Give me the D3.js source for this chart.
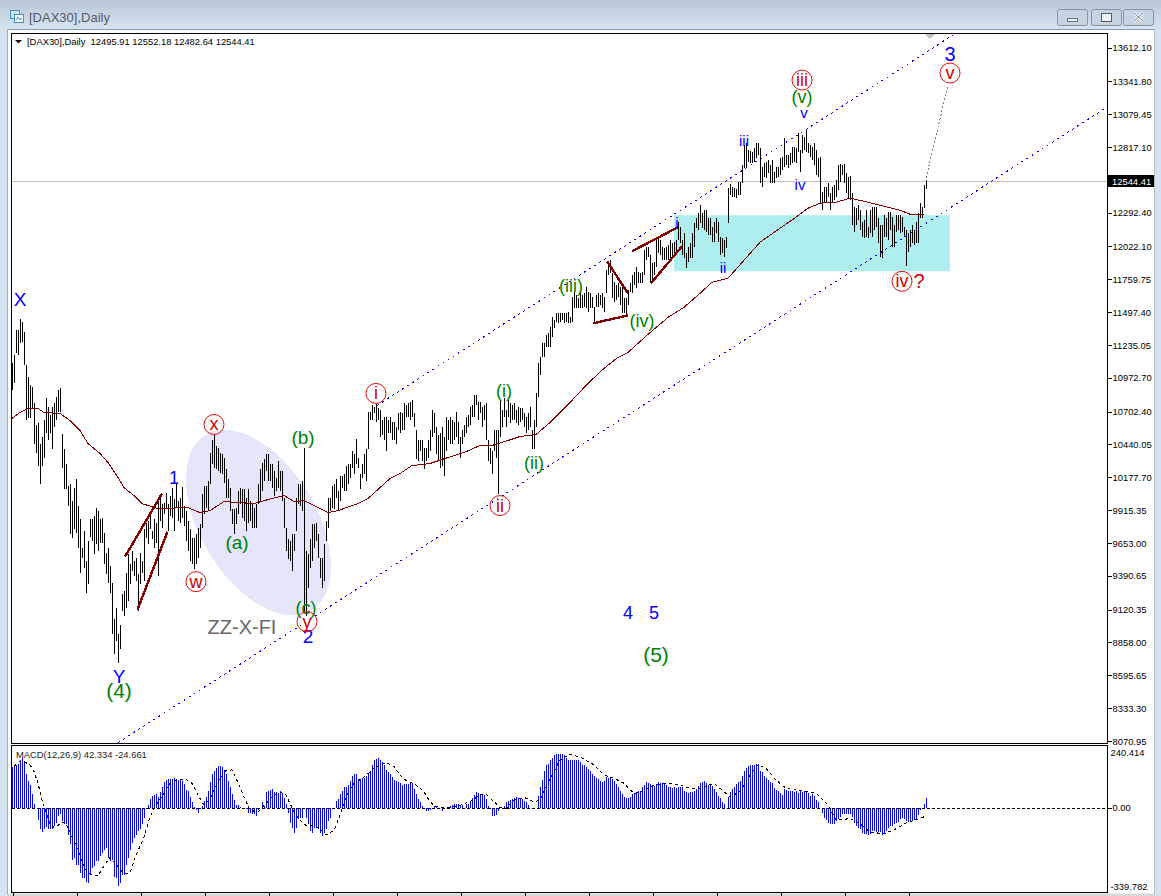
<!DOCTYPE html>
<html><head><meta charset="utf-8">
<script src="https://cdn.jsdelivr.net/npm/d3@7/dist/d3.min.js"></script>
<style>html,body{margin:0;padding:0;background:#fff;overflow:hidden}svg{display:block}text{font-family:"Liberation Sans",Arial,sans-serif}</style>
</head><body><svg id="c" width="1161" height="896"></svg>
<script>
const priceTicks=[13612.10,13341.80,13079.45,12817.10,12292.40,12022.10,11759.75,11497.40,11235.05,10972.70,10702.40,10440.05,10177.70,9915.35,9653.00,9390.65,9120.35,8858.00,8595.65,8333.30,8070.95];
const lastPrice=12544.41;
const headerText="[DAX30],Daily  12495.91 12552.18 12482.64 12544.41";
const macdText="MACD(12,26,9) 42.334 -24.661";
const highs=[
11088,11152,11352,11352,11440,11416,11336,11072,10976,10912,10896,10768,10592,10608,10448,10496,
10632,10808,10736,10672,10736,10768,10816,10872,10888,10520,10408,10288,10112,10128,9992,10096,
10168,9952,9848,9616,9752,9512,9672,9848,9848,9872,9936,9912,9848,9856,9736,9576,
9616,9472,9336,9048,9136,8928,9000,9248,9272,9416,9568,9488,9592,9512,9536,9408,
9576,9512,9768,9816,9832,9872,9752,9848,9816,10016,10032,9968,9976,10056,9968,10032,
10096,10008,10128,9992,10016,10104,9952,9912,9832,9768,9696,9696,9728,9776,9808,10048,
10112,10112,10152,10376,10472,10512,10432,10416,10376,10368,10336,10248,10168,10096,9928,9928,
9936,10072,10096,10088,10088,10016,10088,9992,9968,9936,9968,10128,10248,10296,10328,10368,
10368,10288,10288,10232,10176,10312,10232,10232,10016,9776,9688,9672,9728,9728,10016,10128,
10128,10152,10416,9592,9568,9688,9808,9808,9816,9728,9536,9536,9648,9832,10016,10016,
10112,10128,10168,10072,10192,10192,10208,10272,10288,10288,10392,10368,10480,10336,10208,10288,
10368,10408,10696,10696,10752,10736,10768,10728,10712,10632,10656,10656,10632,10656,10616,10616,
10576,10688,10696,10688,10768,10752,10768,10776,10792,10688,10552,10472,10472,10472,10416,10416,
10472,10552,10712,10688,10576,10512,10528,10576,10496,10656,10632,10656,10632,10616,10696,10616,
10496,10552,10592,10656,10672,10736,10752,10832,10832,10776,10776,10736,10752,10768,10472,10416,
10392,10552,10552,10552,10792,10712,10808,10712,10792,10768,10752,10768,10712,10736,10728,10728,
10688,10656,10688,10736,10552,10632,10848,11088,11136,11248,11248,11312,11328,11376,11456,11432,
11488,11488,11488,11488,11488,11488,11496,11456,11616,11656,11632,11608,11648,11632,11648,11696,
11656,11648,11616,11536,11632,11648,11632,11648,11616,11832,11888,11912,11808,11736,11712,11728,
11696,11696,11608,11608,11672,11728,11792,11816,11856,11816,11808,11816,11992,12016,12016,11952,
11888,11896,12096,12088,12072,12016,12008,12016,12032,12072,12048,12056,12072,12216,12176,12072,
12128,11968,12016,12048,12128,12208,12248,12288,12352,12288,12312,12312,12248,12248,12176,12216,
12248,12216,12096,12088,12072,12096,12488,12520,12496,12488,12480,12536,12536,12672,12832,12848,
12792,12784,12776,12808,12848,12848,12808,12656,12688,12696,12712,12672,12712,12616,12656,12656,
12728,12736,12888,12752,12752,12768,12816,12816,12808,12928,12792,12912,12896,12960,12848,12832,
12816,12848,12792,12728,12736,12456,12496,12496,12528,12448,12496,12512,12552,12672,12680,12672,
12680,12608,12576,12584,12448,12336,12328,12352,12312,12216,12232,12312,12176,12312,12336,12336,
12336,12248,12192,12192,12272,12248,12296,12296,12256,12192,12272,12272,12272,12256,12176,12152,
12128,12152,12192,12152,12216,12288,12368,12336,12512,12552];
const lows=[
10872,10928,11168,11152,11248,11256,11072,10632,10648,10648,10728,10448,10376,10272,10128,10272,
10336,10528,10472,10528,10408,10576,10632,10696,10696,10256,10088,10088,9952,9728,9696,9768,
9736,9616,9416,9536,9456,9256,9328,9704,9672,9568,9648,9592,9656,9656,9488,9408,
9336,9256,8928,8768,8872,8696,8808,9112,9072,9136,9192,9328,9432,9392,9352,9112,
9328,9416,9352,9696,9648,9768,9688,9616,9656,9392,9832,9776,9888,9936,9752,9872,
9856,9752,9936,9832,9816,9856,9792,9672,9592,9512,9488,9448,9488,9536,9616,9776,
9888,9936,9912,10128,10288,10256,10248,10232,10216,10208,10136,10016,10016,9912,9808,9728,
9808,9888,9968,9856,9832,9752,9816,9832,9776,9776,9776,9968,9992,10072,10152,10232,
10152,10152,10096,10032,10072,10096,10072,9992,9776,9592,9528,9512,9432,9592,9752,9968,
9952,9912,9096,9072,9296,9456,9512,9616,9672,9536,9376,9296,9352,9672,9776,9912,
9936,9928,10016,9912,9992,10096,10072,10072,10128,10176,10256,10208,10288,10256,10088,10176,
10208,10152,10408,10632,10632,10688,10616,10632,10496,10512,10472,10392,10528,10528,10472,10472,
10448,10552,10528,10552,10552,10656,10656,10632,10656,10576,10328,10312,10392,10312,10248,10312,
10336,10392,10496,10528,10368,10312,10256,10272,10192,10392,10472,10448,10448,10472,10496,10448,
10336,10448,10496,10528,10576,10592,10656,10656,10752,10632,10688,10576,10632,10472,10312,10288,
10208,10392,10336,10048,10496,10576,10656,10576,10656,10608,10632,10632,10608,10592,10616,10632,
10576,10528,10552,10576,10408,10408,10576,10816,10992,11136,11136,11216,11216,11216,11296,11368,
11416,11408,11416,11432,11408,11416,11408,11408,11416,11528,11528,11528,11528,11528,11536,11528,
11496,11528,11528,11416,11536,11536,11552,11528,11496,11648,11792,11808,11608,11576,11592,11616,
11552,11488,11488,11472,11552,11656,11648,11712,11688,11728,11728,11728,11792,11912,11936,11736,
11728,11792,11856,11968,11952,11912,11912,11912,11912,11928,11936,11936,11952,12072,12048,11952,
11928,11848,11896,11928,11928,12016,12168,12152,12208,12168,12152,12136,12112,12112,12056,12056,
12128,12056,11952,11968,11936,12008,12208,12432,12416,12416,12408,12432,12432,12528,12648,12656,
12696,12688,12688,12696,12728,12752,12528,12496,12576,12568,12608,12528,12528,12528,12568,12576,
12592,12632,12656,12672,12648,12672,12688,12696,12688,12776,12616,12768,12792,12776,12768,12736,
12712,12672,12592,12576,12368,12312,12368,12376,12416,12312,12376,12392,12416,12472,12536,12592,
12528,12448,12408,12392,12192,12136,12192,12232,12152,12096,12088,12096,12088,12128,12096,12152,
12176,12048,11936,11928,12096,12096,12072,12152,12016,12016,12136,12152,12128,12136,12096,11864,
11976,12016,12048,12032,12048,12048,12248,12248,12328,12480];
const macd=[
175,175,186,189,204,216,197,146,117,98,58,17,0,-55,-95,-105,-95,-85,-92,-95,
-92,-80,-66,-36,-29,-58,-70,-73,-117,-160,-226,-219,-248,-248,-284,-306,-306,-323,-328,-291,
-262,-255,-233,-233,-211,-197,-182,-175,-219,-233,-226,-299,-306,-338,-328,-291,-291,-248,-219,-182,
-153,-131,-117,-102,-95,-73,-44,-7,12,36,51,55,58,47,66,87,109,119,122,124,
125,128,124,119,122,117,102,76,73,44,22,3,-12,-22,-7,7,29,44,70,109,
146,160,172,178,178,175,163,146,117,87,58,32,12,12,3,0,0,-7,-22,-22,
-26,-29,-36,-12,-3,26,7,66,73,76,80,66,66,61,70,61,41,15,-22,-66,
-87,-109,-87,-51,-44,-44,-7,-44,-73,-102,-109,-87,-90,-95,-109,-124,-109,-95,-58,-44,
-7,0,29,36,58,70,90,90,99,117,138,143,146,124,124,128,128,138,146,160,
186,204,211,216,204,197,182,163,153,146,131,119,114,109,
105,99,102,102,102,105,102,80,58,36,22,7,0,-15,-17,-12,0,7,3,-3,
0,-15,-4,0,-3,6,9,15,17,17,12,12,0,15,17,29,41,55,66,63,
58,55,55,36,7,-7,-36,-36,-32,-15,-3,0,7,22,29,32,36,41,44,41,
41,36,29,22,12,0,0,0,0,51,90,119,160,182,189,204,216,226,230,233,
233,233,226,216,204,207,207,207,207,204,197,186,182,175,168,160,146,138,128,124,
117,109,114,131,128,128,124,114,102,87,70,58,44,41,41,44,58,61,66,70,
73,87,99,109,105,102,95,95,102,109,105,105,102,99,90,87,85,87,85,87,
87,90,73,66,61,66,66,73,80,95,105,109,114,105,99,99,95,80,66,51,
41,22,15,0,44,66,80,87,102,109,117,138,160,172,178,186,186,186,189,189,
160,153,138,128,119,109,105,85,76,70,61,55,80,76,70,73,70,66,73,61,
70,66,73,73,61,51,58,51,32,26,0,-22,-44,-55,-66,-73,-73,-70,-58,-51,
-41,-29,-26,-26,-26,-29,-41,-66,-80,-87,-95,-109,-114,-114,-117,-114,-102,-102,-105,-105,
-108,-117,-109,-102,-87,-80,-80,-73,-66,-61,-51,-47,-51,-58,-61,-61,-58,-55,-51,-32,
-12,0,17,42.334];
const signalBar=[1,4,6,9,11,13,15,17,19,21,23,25,27,29,33,36,39,43,46,49,52,56,59,62,66,69,72,76,79,82,87,90,93,96,99,103,107,110,112,116,119,123,127,131,134,137,141,144,147,151,154,157,161,164,167,171,176,181,187,191,194,197,202,206,209,212,219,224,229,234,237,242,244,247,251,256,261,264,267,271,274,279,284,291,296,301,306,311,314,321,327,334,339,344,351,356,359,364,369,373,377,382,387,394,402,408,412,419,424,429,436,442,447,454,456];
const signalVal=[178,200,198,185,156,105,32,-19,-70,-87,-77,-63,-70,-106,-186,-259,-288,-296,-252,-216,-245,-288,-281,-208,-128,-41,10,61,105,119,122,105,54,10,39,112,160,163,127,47,-12,-19,17,54,68,54,-19,-55,-77,-77,-92,-118,-99,-34,47,105,131,170,195,178,141,117,98,68,25,3,-1,10,25,54,57,17,-1,-4,32,44,25,32,90,156,207,229,219,185,141,127,105,61,68,98,105,98,83,83,105,68,47,68,141,185,170,119,83,73,64,10,-55,-48,-70,-106,-114,-92,-67,-48,-40];
const maBar=[0,4,8,13,16,24,29,34,38,44,48,53,56,61,65,73,88,94,99,106,121,128,136,141,146,154,158,163,173,178,184,189,194,200,209,218,226,234,240,248,254,262,269,279,288,296,303,308,318,328,336,344,350,358,366,374,384,392,398,404,412,419,428,434,444,449,456];
const maVal=[10648,10696,10728,10728,10696,10688,10632,10552,10448,10368,10296,10176,10096,10032,9968,9928,9936,9896,9912,9984,9968,10000,10032,9984,9992,9928,9896,9912,9968,10008,10096,10168,10208,10272,10288,10336,10376,10432,10432,10472,10504,10520,10616,10776,10928,11048,11136,11176,11320,11456,11536,11648,11736,11768,11912,12056,12168,12256,12328,12368,12376,12408,12376,12352,12312,12280,12280];
const channels=[[[182.5,10752],[470.5,13712]],[[50.5,8032],[547.5,13136]]];
const trendLines=[[[56.5,9544],[75,10048]],[[62.75,9120],[77.75,9744]],[[297.5,11904],[308,11648]],[[290.5,11408],[308,11472]],[[310,11984],[333,12176]],[[319.5,11728],[335,12024]]];
const projection=[[457,12568],[468,13312]];
const zone={from:331,to:469,top:12272,bottom:11824};
const ellipseCenter=[123.25,9816];
const labels=[
["X",4,11600,"b",19],["1",81,10176,"b",18],["Y",53.5,8584,"b",19],["(4)",53.5,8472,"g",21],
["(a)",112.5,9656,"g",19],["(b)",145.5,10496,"g",19],["(c)",147,9136,"g",18],["2",148,8904,"b",19],
["ZZ-X-FI",115,8984,"z",20],["(i)",246,10864,"g",18],["(ii)",261,10296,"g",18],["(iii)",279.5,11704,"g",18],
["(iv)",315,11424,"g",18],["4",308,9096,"b",18],["5",321,9096,"b",18],["(5)",322,8760,"g",21],
["i",332.5,12216,"b",15],["ii",355.5,11856,"b",15],["iii",366,12872,"b",15],["iv",394,12520,"b",15],
["v",396,13096,"b",15],["(v)",395,13216,"g",18],["?",453.5,11744,"r",20],["3",469,13560,"b",20]];
const circled=[["x",101,10600],["w",92,9344],["y",147.5,9024],["i",182,10848],["ii",244,9952],["iii",395,13352],["iv",445,11744],["v",469,13408]];

const W=1161,H=896,L=12,R=1107,T=33,PB=743,MT=745,MB=892,FS=9.4;
const svg=d3.select("#c");
const defs=svg.append("defs");
const g1=defs.append("linearGradient").attr("id","tb").attr("x1",0).attr("x2",0).attr("y1",0).attr("y2",1);
g1.append("stop").attr("offset",0).attr("stop-color","#b8c6d6");g1.append("stop").attr("offset",1).attr("stop-color","#d6e4f2");
defs.append("clipPath").attr("id","pc").append("rect").attr("x",L).attr("y",T+1).attr("width",R-L).attr("height",PB-T-1);
defs.append("clipPath").attr("id","mc").append("rect").attr("x",L).attr("y",MT+1).attr("width",R-L).attr("height",MB-MT-1);

// window chrome
svg.append("rect").attr("width",W).attr("height",H).attr("fill","#d6e4f2");
svg.append("rect").attr("width",W).attr("height",30).attr("fill","url(#tb)");
svg.append("rect").attr("x",7).attr("y",29).attr("width",1148).attr("height",1).attr("fill","#8e99a6");
svg.append("rect").attr("x",7).attr("y",29).attr("width",1).attr("height",866).attr("fill","#a6aeb8");
svg.append("rect").attr("x",8).attr("y",30).attr("width",1146).attr("height",864).attr("fill","#fff");
svg.append("rect").attr("x",1154).attr("y",29).attr("width",1).attr("height",866).attr("fill","#b4bcc6");
svg.append("rect").attr("x",8).attr("y",893.5).attr("width",1146).attr("height",2.5).attr("fill","#d8d8d8");
// icon
const ic=svg.append("g").attr("fill","none").attr("stroke","#4a90c8");
ic.append("rect").attr("x",10.5).attr("y",10.5).attr("width",9).attr("height",8).attr("fill","#cfe4f5");
ic.append("rect").attr("x",14.5).attr("y",14.5).attr("width",9).attr("height",8).attr("fill","#f2f8fd");
ic.append("path").attr("d",d3.line()([[16,20],[18,17],[20,20],[22,18]]));
svg.append("text").attr("x",29).attr("y",22).attr("font-size",13).attr("fill","#5a5a6a").text("[DAX30],Daily");
// window buttons
[[1057,"min"],[1091,"max"],[1123,"x"]].forEach(([x,k])=>{
  const b=svg.append("g");
  b.append("rect").attr("x",x+.5).attr("y",9.5).attr("width",30).attr("height",16).attr("rx",2).attr("fill","#c6d3e1").attr("stroke","#8793a2");
  if(k==="min")b.append("rect").attr("x",x+10.5).attr("y",18.5).attr("width",10).attr("height",3).attr("fill","#eef2f6").attr("stroke","#666e78");
  if(k==="max")b.append("rect").attr("x",x+10.5).attr("y",13.5).attr("width",10).attr("height",8).attr("fill","#eef2f6").attr("stroke","#555c66");
  if(k==="x")b.append("path").attr("d",`M${x+11} 13L${x+20} 21M${x+20} 13L${x+11} 21`).attr("stroke","#f4f6f8").attr("stroke-width",3).attr("fill","none"),
    b.append("path").attr("d",`M${x+11} 13L${x+20} 21M${x+20} 13L${x+11} 21`).attr("stroke","#7b8490").attr("stroke-width",1).attr("fill","none");
});

// scales
const x=d3.scaleLinear().domain([0,457]).range([12,926]);
const y=d3.scaleLinear().domain([8070.95,13612.10]).range([741,47.5]);
const ym=d3.scaleLinear().domain([-339.782,240.414]).range([886,752]);

// price pane
const pp=svg.append("g").attr("clip-path","url(#pc)");
pp.append("rect").attr("x",x(zone.from)).attr("y",y(zone.top)).attr("width",x(zone.to)-x(zone.from)).attr("height",y(zone.bottom)-y(zone.top)).attr("fill","#afeeee");
pp.append("ellipse").attr("rx",102.5).attr("ry",58).attr("shape-rendering","crispEdges")
  .attr("transform",`translate(${x(ellipseCenter[0])},${y(ellipseCenter[1])}) rotate(59)`).attr("fill","#e6e6fa");
pp.append("line").attr("x1",L).attr("x2",R).attr("y1",Math.round(y(lastPrice))+.5).attr("y2",Math.round(y(lastPrice))+.5).attr("stroke","#c0c0c0");
pp.append("g").selectAll("line").data(highs).join("line")
  .attr("x1",(d,i)=>x(i)+.5).attr("x2",(d,i)=>x(i)+.5)
  .attr("y1",d=>y(d)).attr("y2",(d,i)=>y(lows[i]))
  .attr("stroke","#000").attr("shape-rendering","crispEdges");
const pl=d3.line().x(d=>x(d[0])).y(d=>y(d[1]));
pp.append("path").attr("d",pl(maBar.map((b,i)=>[b,maVal[i]]))).attr("fill","none").attr("stroke","#800000").attr("stroke-width",1).attr("shape-rendering","crispEdges");
channels.forEach(c=>pp.append("path").attr("d",pl(c)).attr("fill","none").attr("stroke","#0000ff").attr("stroke-width",1).attr("stroke-dasharray","2 4").attr("shape-rendering","crispEdges"));
trendLines.forEach(c=>pp.append("path").attr("d",pl(c)).attr("fill","none").attr("stroke","#800000").attr("stroke-width",2.4).attr("shape-rendering","crispEdges"));
pp.append("path").attr("d",pl(projection)).attr("fill","none").attr("stroke","#808080").attr("stroke-dasharray","2 2").attr("shape-rendering","crispEdges");
pp.append("path").attr("d","M925 34h10l-5 5z").attr("fill","#c0c0c0");

const colors={b:"#0000ff",g:"#008000",r:"#cc0000",z:"#696969"};
labels.forEach(([t,b,p,k,s])=>pp.append("text").attr("x",x(b)).attr("y",y(p)).attr("text-anchor","middle").attr("dominant-baseline","central").attr("font-size",s).attr("fill",colors[k]).text(t));
circled.forEach(([t,b,p])=>{
  const g=pp.append("g").attr("transform",`translate(${x(b)},${y(p)})`);
  g.append("circle").attr("r",10).attr("fill","none").attr("stroke","#e01010");
  g.append("text").attr("text-anchor","middle").attr("dominant-baseline","central").attr("font-size",18).attr("fill","#cc0000").text(t);
});
// header
svg.append("path").attr("d","M15 40h7l-3.5 3.5z").attr("fill","#000");
svg.append("text").attr("x",27).attr("y",45).attr("font-size",FS).attr("fill","#000").attr("xml:space","preserve").text(headerText);

// macd pane
const mp=svg.append("g").attr("clip-path","url(#mc)");
mp.append("g").selectAll("line").data(macd).join("line")
  .attr("x1",(d,i)=>x(i)+.5).attr("x2",(d,i)=>x(i)+.5)
  .attr("y1",ym(0)).attr("y2",d=>ym(d))
  .attr("stroke","#0000ff").attr("shape-rendering","crispEdges");
mp.append("line").attr("x1",L).attr("x2",R).attr("y1",Math.round(ym(0))+.5).attr("y2",Math.round(ym(0))+.5).attr("stroke","#000").attr("stroke-dasharray","3 2").attr("shape-rendering","crispEdges");
mp.append("path").attr("d",d3.line().x((d,i)=>x(d)).y((d,i)=>ym(signalVal[i]))(signalBar)).attr("fill","none").attr("stroke","#000").attr("stroke-dasharray","3 3").attr("shape-rendering","crispEdges");
svg.append("text").attr("x",16).attr("y",758).attr("font-size",FS).attr("fill","#222").text(macdText);

// frames
[[T,PB],[MT,MB]].forEach(([a,b])=>svg.append("rect").attr("x",11.5).attr("y",a+.5).attr("width",R-11).attr("height",b-a).attr("fill","none").attr("stroke","#000"));

// axes
const ax=svg.append("g").attr("transform",`translate(${R+.5},0)`).call(d3.axisRight(y).tickValues(priceTicks).tickFormat(d=>d.toFixed(2)).tickSize(4).tickPadding(1));
const am=svg.append("g").attr("transform",`translate(${R+.5},0)`).call(d3.axisRight(ym).tickValues([0]).tickFormat(d=>d.toFixed(2)).tickSize(4).tickPadding(1));
const am2=svg.append("g").attr("transform",`translate(${R+.5},0)`).call(d3.axisRight(ym).tickValues([240.414,-339.782]).tickFormat(d=>d.toFixed(3)).tickSize(0).tickPadding(3));
const ab=svg.append("g").attr("transform",`translate(0.5,${MB+.5})`).call(d3.axisBottom(x).tickValues(d3.range(0,458,32)).tickFormat("").tickSize(3));
[ax,am,am2,ab].forEach(a=>{a.select(".domain").remove();a.selectAll("text").attr("font-size",FS).attr("font-family",'"Liberation Sans"').attr("fill","#000");a.selectAll("line").attr("shape-rendering","crispEdges");});
// last price tag
const ty=Math.round(y(lastPrice));
svg.append("line").attr("x1",R).attr("x2",R+4).attr("y1",ty+.5).attr("y2",ty+.5).attr("stroke","#000");
svg.append("rect").attr("x",1108).attr("y",ty-6).attr("width",46).attr("height",12).attr("fill","#000");
svg.append("text").attr("x",1112).attr("y",ty+3.5).attr("font-size",FS).attr("fill","#fff").text(lastPrice.toFixed(2));
</script></body></html>
